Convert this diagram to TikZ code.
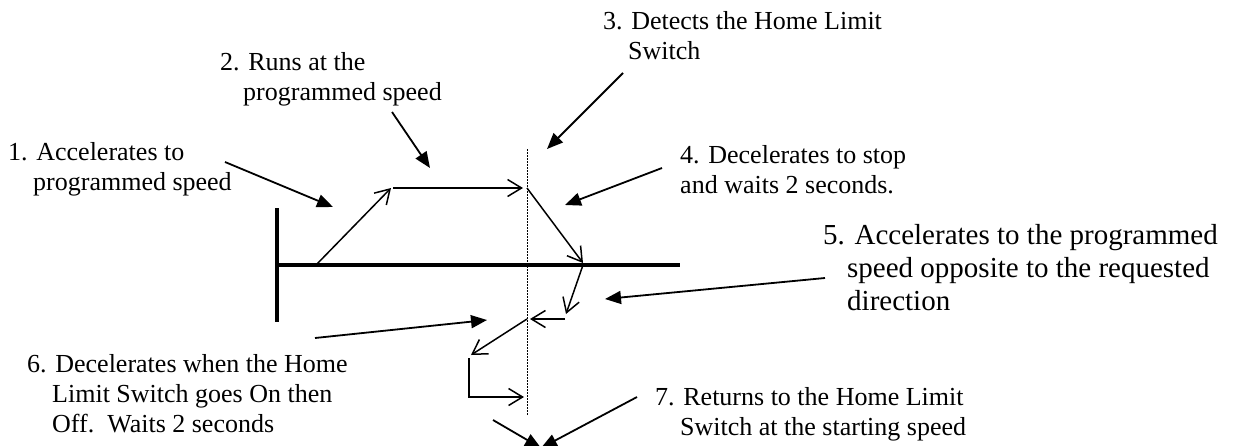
\documentclass[tikz,border=0pt]{standalone}
\usepackage{fontspec}
\setmainfont{Liberation Serif}
\usetikzlibrary{arrows.meta}
\tikzset{
  lbl/.style={anchor=north west, inner sep=0pt, align=left, font=\fontsize{26pt}{30pt}\selectfont},
  lblbig/.style={lbl, font=\fontsize{29pt}{33pt}\selectfont},
  prof/.style={line width=1.5pt, -{Straight Barb[length=14pt,width=17pt,line width=1.5pt]}},
  call/.style={line width=1.8pt, -{Triangle[length=16pt,width=13pt]}},
  axis/.style={line width=4pt},
  switchline/.style={line width=1pt, dash pattern=on 1.5pt off 1.5pt}
}
\begin{document}
\begin{tikzpicture}[x=1pt,y=-1pt]
\useasboundingbox (0,0) rectangle (1233,445);
% labels
\node[lbl] (t1) at (8,142) {1. Accelerates to\\\hspace*{25pt}programmed speed};
\node[lbl] (t2) at (220,52) {2. Runs at the\\\hspace*{23pt}programmed speed};
\node[lbl] (t3) at (603,11) {3. Detects the Home Limit\\\hspace*{25pt}Switch};
\node[lbl] (t4) at (680,145) {4. Decelerates to stop\\and waits 2 seconds.};
\node[lblbig] (t5) at (823,224) {5. Accelerates to the programmed\\\hspace*{24pt}speed opposite to the requested\\\hspace*{24pt}direction};
\node[lbl] (t6) at (27,354) {6. Decelerates when the Home\\\hspace*{25pt}Limit Switch goes On then\\\hspace*{25pt}Off.\ \ Waits 2 seconds};
\node[lbl] (t7) at (655,387) {7. Returns to the Home Limit\\\hspace*{25pt}Switch at the starting speed};
% axes
\coordinate (ax0) at (277,265);
\coordinate (ax1) at (680,265);
\coordinate (vb0) at (277,208);
\coordinate (vb1) at (277,322);
\draw[axis] (ax0) -- (ax1);
\draw[axis] (vb0) -- (vb1);
% home limit switch position
\coordinate (sw0) at (527,149);
\coordinate (sw1) at (527,415);
\draw[switchline] (sw0) -- (sw1);
% speed profile
\coordinate (a0) at (316,265);
\coordinate (a1) at (391,188);
\coordinate (h0) at (393,188);
\coordinate (h1) at (523,188);
\coordinate (d0) at (527,188);
\coordinate (d1) at (583,263);
\coordinate (r0) at (583,265);
\coordinate (r1) at (566,314);
\coordinate (b0) at (565,319);
\coordinate (b1) at (530,319);
\coordinate (c0) at (527,319);
\coordinate (c1) at (471,355);
\coordinate (e0) at (469,358);
\coordinate (e1) at (469,397);
\coordinate (e2) at (524,397);
\draw[prof] (a0) -- (a1);
\draw[prof] (h0) -- (h1);
\draw[prof] (d0) -- (d1);
\draw[prof] (r0) -- (r1);
\draw[prof] (b0) -- (b1);
\draw[prof] (c0) -- (c1);
\draw[prof] (e0) -- (e1) -- (e2);
% callouts
\coordinate (k1s) at (225,162); \coordinate (k1e) at (333,207);
\coordinate (k2s) at (392,112); \coordinate (k2e) at (430,168);
\coordinate (k3s) at (623,73);  \coordinate (k3e) at (547,149);
\coordinate (k4s) at (662,168); \coordinate (k4e) at (565,205);
\coordinate (k5s) at (825,278); \coordinate (k5e) at (605,299);
\coordinate (k6s) at (315,338); \coordinate (k6e) at (487,320);
\coordinate (k7s) at (637,397); \coordinate (k7b) at (493,420); \coordinate (k7e) at (541,448);
\draw[call] (k1s) -- (k1e);
\draw[call] (k2s) -- (k2e);
\draw[call] (k3s) -- (k3e);
\draw[call] (k4s) -- (k4e);
\draw[call] (k5s) -- (k5e);
\draw[call] (k6s) -- (k6e);
\draw[call] (k7s) -- (k7e);
\draw[call] (k7b) -- (k7e);
\end{tikzpicture}
\end{document}
